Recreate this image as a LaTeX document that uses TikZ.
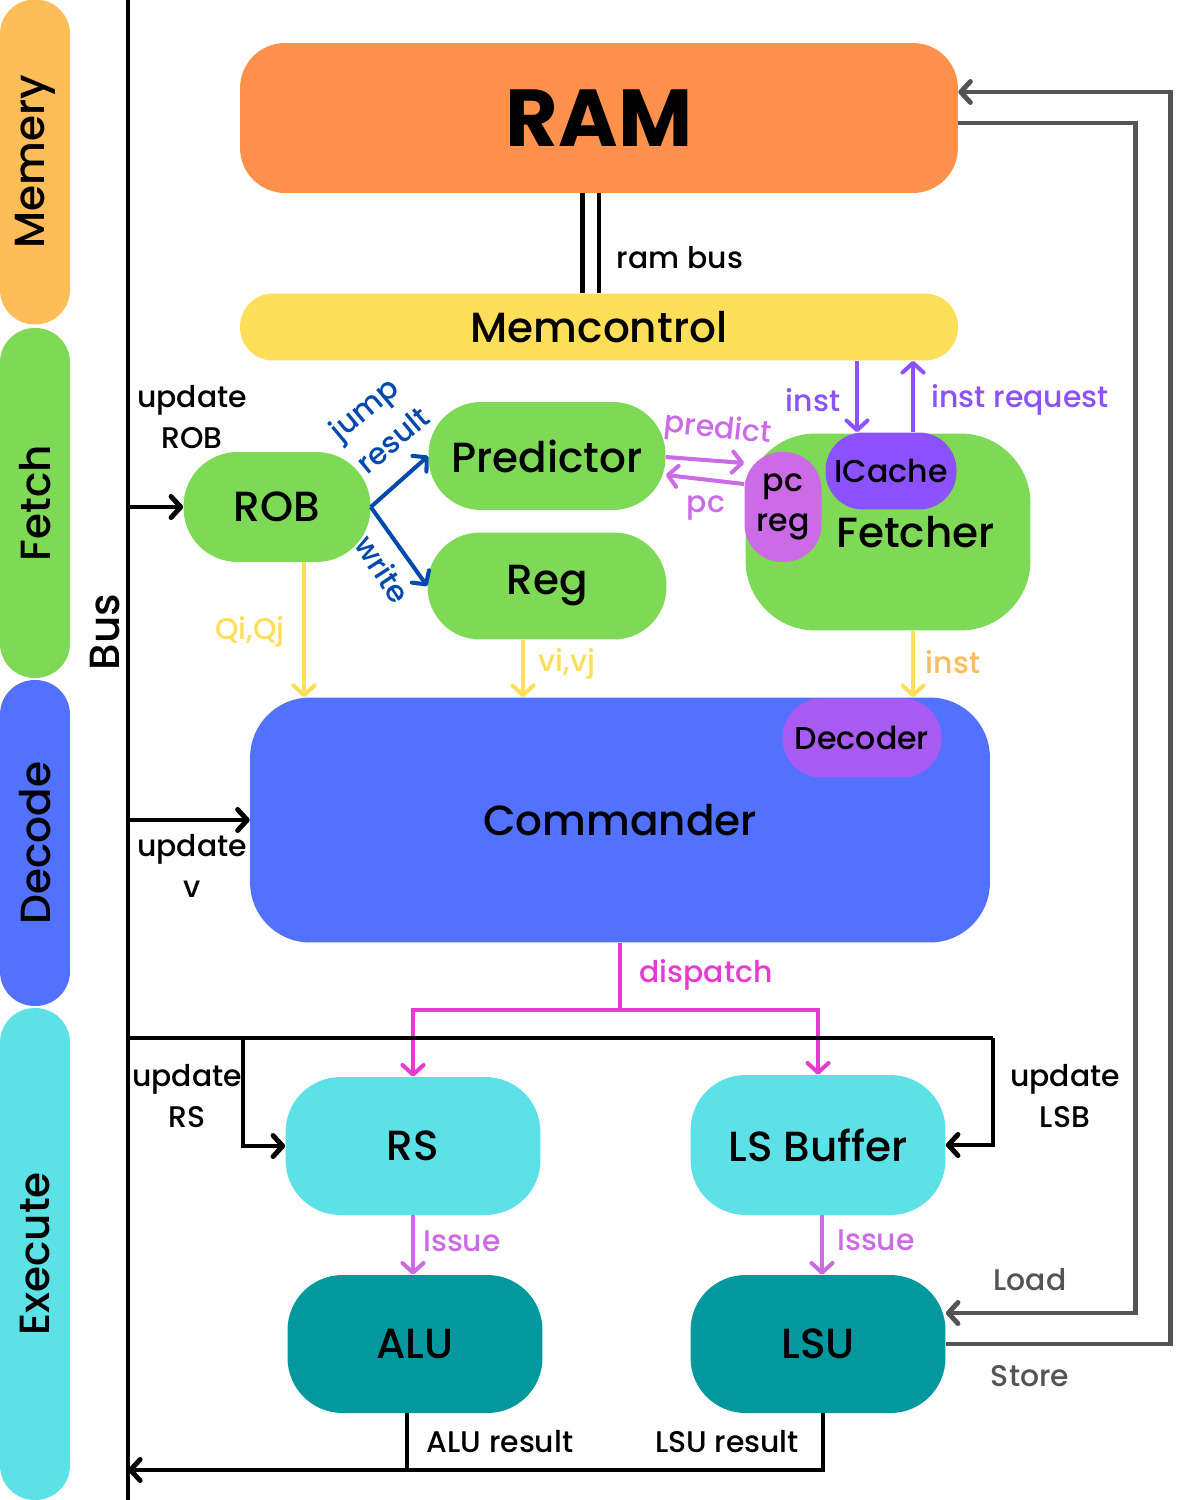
\documentclass[tikz,border=0pt]{standalone}
\usepackage{fontspec}
\setmainfont{Poppins}[UprightFont={* Medium}, BoldFont={* Bold}]
\usetikzlibrary{arrows.meta}
\usetikzlibrary{positioning}
\definecolor{memc}{HTML}{FFBD59}
\definecolor{ramc}{HTML}{FF914D}
\definecolor{ctlc}{HTML}{FFDE59}
\definecolor{grnc}{HTML}{7ED957}
\definecolor{bluc}{HTML}{5271FF}
\definecolor{cyac}{HTML}{5CE1E6}
\definecolor{teac}{HTML}{03989E}
\definecolor{purc}{HTML}{8C52FF}
\definecolor{pinc}{HTML}{CB6CE6}
\definecolor{decc}{HTML}{A95AF2}
\definecolor{magc}{HTML}{E63BD0}
\definecolor{darkb}{HTML}{004AAD}
\definecolor{gryc}{HTML}{545454}
\tikzset{box/.style = {draw=none, inner sep=0pt, font=\fontsize{24}{28}\selectfont}}
\tikzset{small/.style = {box, font=\fontsize{18}{23}\selectfont}}
\tikzset{stage/.style = {box, rotate=90, minimum height=1.4cm, rounded corners=0.69cm}}
\tikzset{lab/.style = {align=center, inner sep=0pt, font=\fontsize{17}{23}\selectfont}}
\tikzset{blk/.style = {line width=2.8pt, black}}
\tikzset{yel/.style = {line width=2.3pt, ctlc, ->}}
\tikzset{vio/.style = {line width=2.3pt, purc, ->}}
\tikzset{iss/.style = {line width=2.3pt, pinc, ->}}
\tikzset{jmp/.style = {line width=2.3pt, darkb, ->}}
\tikzset{gry/.style = {line width=2.8pt, gryc}}

\begin{document}
\begin{tikzpicture}[x=0.02cm, y=-0.02cm, >={Straight Barb[length=5.5pt,width=12pt,round]}]
\useasboundingbox (0,0) rectangle (1200,1500);

% stages
\node[stage, fill=memc, minimum width=6.5cm] (smem) at (35,162) {Memery};
\node[stage, fill=grnc, minimum width=7cm] (sfet) at (35,503) {Fetch};
\node[stage, fill=bluc, minimum width=6.52cm] (sdec) at (35,843) {Decode};
\node[stage, fill=cyac, minimum width=9.84cm] (sexe) at (35,1254) {Execute};

% bus
\coordinate (bustop) at (128,0);
\coordinate (busbot) at (128,1500);
\draw[blk] (bustop) -- (busbot);
\node[box, rotate=90] (bus) at (105,632) {Bus};

% blocks
\node[box, fill=ramc, minimum width=14.36cm, minimum height=3cm, rounded corners=0.9cm,
      font=\fontsize{46}{50}\selectfont\bfseries] (ram) at (599,118) {RAM};
\node[box, fill=ctlc, minimum width=14.36cm, minimum height=1.34cm, rounded corners=0.66cm] (mem) at (599,327) {Memcontrol};
\node[box, fill=grnc, minimum width=3.74cm, minimum height=2.2cm, rounded corners=1.08cm] (rob) at (277,507) {ROB};
\node[box, fill=grnc, minimum width=4.74cm, minimum height=2.16cm, rounded corners=1.05cm] (pred) at (547,456) {Predictor};
\node[box, fill=grnc, minimum width=4.78cm, minimum height=2.14cm, rounded corners=1.05cm] (reg) at (547,586) {Reg};
\node[box, fill=grnc, minimum width=5.7cm, minimum height=3.94cm, rounded corners=1.4cm,
      label={[box, xshift=0.55cm, yshift=0cm]center:Fetcher}] (fet) at (888,532) {};
\node[small, fill=pinc, minimum width=1.54cm, minimum height=2.2cm, rounded corners=0.75cm, align=center] (pcr) at (783,507) {pc\\reg};
\node[small, fill=purc, minimum width=2.62cm, minimum height=1.54cm, rounded corners=0.75cm] (ic) at (891,471) {ICache};
\node[box, fill=bluc, minimum width=14.8cm, minimum height=4.9cm, rounded corners=1.2cm] (cmd) at (620,820) {Commander};
\node[small, fill=decc, minimum width=3.18cm, minimum height=1.58cm, rounded corners=0.78cm] (dec) at (862,738) {Decoder};
\node[box, fill=cyac, minimum width=5.1cm, minimum height=2.76cm, rounded corners=1.1cm] (rs) at (413,1146) {RS};
\node[box, fill=cyac, minimum width=5.1cm, minimum height=2.8cm, rounded corners=1.1cm] (lsb) at (818,1145) {LS Buffer};
\node[box, fill=teac, minimum width=5.1cm, minimum height=2.76cm, rounded corners=1.1cm] (alu) at (415,1344) {ALU};
\node[box, fill=teac, minimum width=5.1cm, minimum height=2.76cm, rounded corners=1.1cm] (lsu) at (818,1344) {LSU};

% ram bus
\draw[blk, double=white, double distance=0.24cm] ([xshift=-0.17cm]ram.south) -- ([xshift=-0.17cm]mem.north);
\node[lab] at (680,258) {ram bus};

% bus to ROB and Commander
\coordinate (b1) at (128,507);
\coordinate (b2) at (128,820);
\draw[blk, ->] (b1) -- (rob);
\draw[blk, ->] (b2) -- (cmd);
\node[lab] at (192,417) {update\\ROB};
\node[lab] at (192,866) {update\\v};

% ROB out
\draw[jmp] (rob.east) -- (pred.west);
\draw[jmp] (rob.east) -- (reg.west);
\node[lab, text=darkb, rotate=40] at (366,411) {jump};
\node[lab, text=darkb, rotate=40] at (393,440) {result};
\node[lab, text=darkb, rotate=-57] at (383,569) {write};

\draw[yel] ([xshift=0.54cm]rob.south) -- ([xshift=0.54cm]rob.south |- cmd.north);
\node[lab, text=ctlc] at (250,632) {Qi,Qj};
\draw[yel] ([xshift=-0.48cm]reg.south) -- ([xshift=-0.48cm]reg.south |- cmd.north);
\node[lab, text=ctlc] at (567,664) {vi,vj};
\draw[yel] ([xshift=0.5cm]fet.south) -- ([xshift=0.5cm]fet.south |- cmd.north);
\node[lab, text=memc] at (953,662) {inst};

% memcontrol and icache
\draw[vio] ([xshift=-0.68cm]ic.north |- mem.south) -- ([xshift=-0.68cm]ic.north);
\draw[vio] ([xshift=0.44cm]ic.north) -- ([xshift=0.44cm]ic.north |- mem.south);
\node[lab, text=purc] at (813,400) {inst};
\node[lab, text=purc] at (1020,400) {inst request};

% predictor and pc reg
\draw[iss] ([yshift=-0.02cm]pred.east) -- ([yshift=0.88cm]pcr.west);
\draw[iss] ([yshift=0.46cm]pcr.west) -- ([yshift=-0.38cm]pred.east);
\node[lab, text=pinc, rotate=-6] at (718,430) {predict};
\node[lab, text=pinc] at (706,508) {pc};

% dispatch
\coordinate (split) at (620,1010);
\draw[line width=2.3pt, magc] (cmd.south) -- (split);
\draw[line width=2.3pt, magc, ->] (split) -| (rs);
\draw[line width=2.3pt, magc, ->] (split) -| (lsb);
\node[lab, text=magc] at (706,975) {dispatch};

% bus to RS and LS Buffer
\coordinate (b3) at (128,1038);
\coordinate (rb) at (243,1038);
\coordinate (lb) at (993,1038);
\draw[blk] (b3) -- (lb);
\draw[blk, ->] (lb) |- (lsb);
\draw[blk, ->] (rb) |- (rs);
\node[lab] at (187,1096) {update\\RS};
\node[lab] at (1065,1096) {update\\LSB};

% issue
\draw[iss] (rs.south) -- (rs.south |- alu.north);
\node[lab, text=pinc] at (462,1241) {Issue};
\draw[iss] ([xshift=0.08cm]lsb.south) -- ([xshift=0.08cm]lsb.south |- lsu.north);
\node[lab, text=pinc] at (876,1240) {Issue};

% results
\coordinate (b4) at (128,1470);
\draw[blk, ->] ([xshift=0.1cm]lsu.south) |- (b4);
\draw[blk] ([xshift=-0.16cm]alu.south) -- ([xshift=-0.16cm]alu.south |- b4);
\node[lab] at (500,1442) {ALU result};
\node[lab] at (727,1442) {LSU result};

% load and store
\draw[gry, ->] ([yshift=-0.1cm]ram.east) -| ([xshift=3.8cm, yshift=0.62cm]lsu.east) -- ([yshift=0.62cm]lsu.east);
\draw[gry, ->] (lsu.east) -| ([xshift=4.24cm, yshift=0.52cm]ram.east) -- ([yshift=0.52cm]ram.east);
\node[lab, text=gryc] at (1030,1280) {Load};
\node[lab, text=gryc] at (1030,1376) {Store};

\end{tikzpicture}
\end{document}
